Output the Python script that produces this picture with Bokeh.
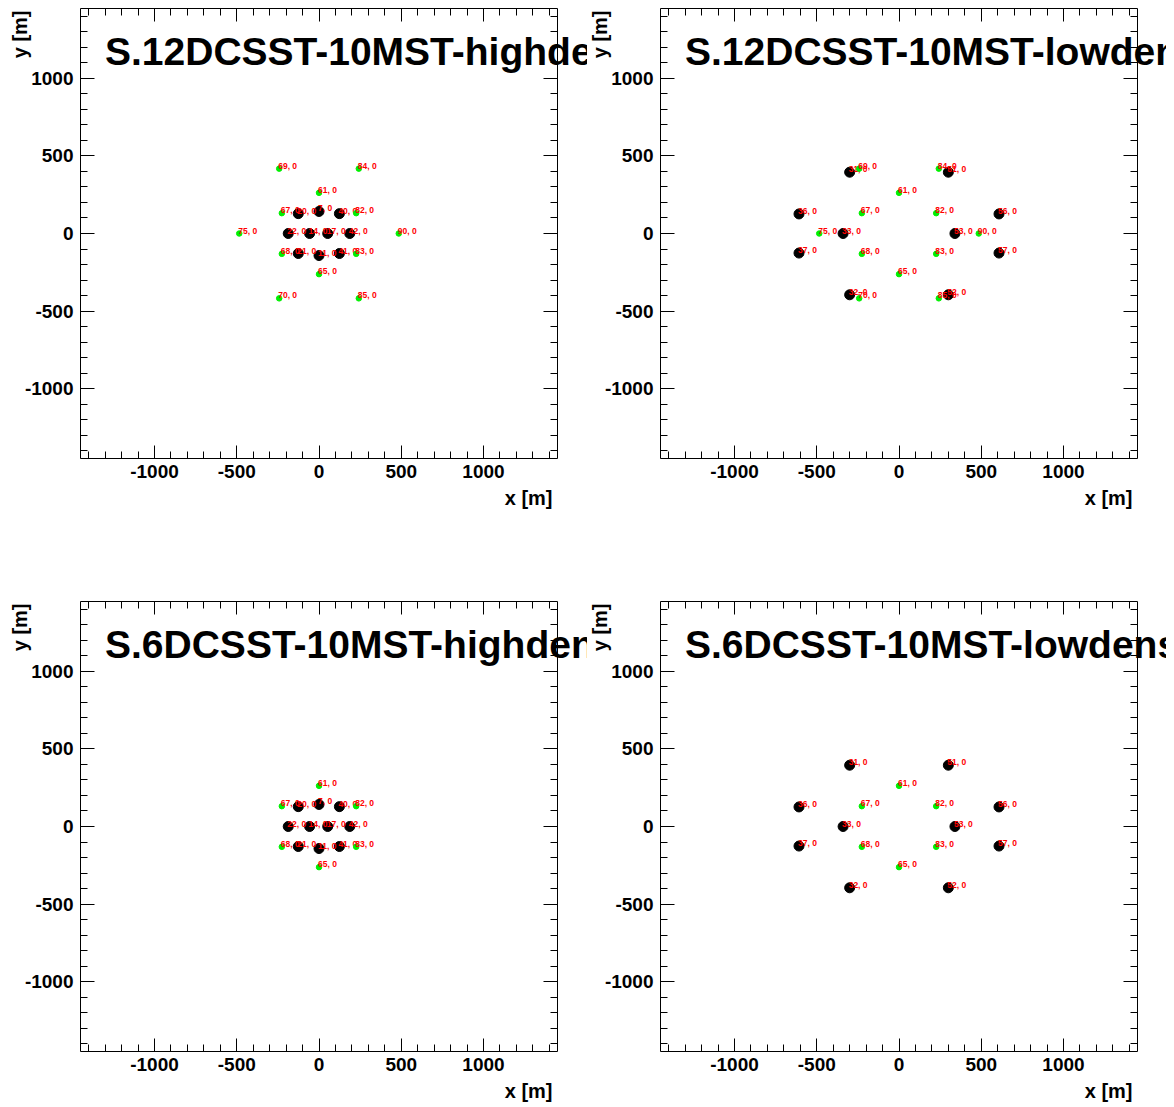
from bokeh.plotting import figure
from bokeh.models import Range1d, FixedTicker, LinearAxis, Label, ColumnDataSource
from bokeh.layouts import column, row
from bokeh.embed import file_html
from bokeh.resources import INLINE
from bokeh.core.properties import value

# ---- data: telescope positions [m] ----
sst12_ids = [69, 84, 61, 67, 82, 75, 90, 68, 83, 65, 70, 85]
sst12_x = [-242, 242, 0, -226, 226, -485, 485, -226, 226, 0, -242, 242]
sst12_y = [418, 418, 262, 131, 131, 0, 0, -131, -131, -262, -418, -418]

sst6_ids = [61, 67, 82, 68, 83, 65]
sst6_x = [0, -226, 226, -226, 226, 0]
sst6_y = [262, 131, 131, -131, -131, -262]

mst_high_ids = [20, 7, 40, 22, 14, 17, 42, 21, 11, 41]
mst_high_x = [-126, 0, 124, -187, -57, 53, 187, -126, 0, 124]
mst_high_y = [128, 142, 128, 0, 0, 0, 0, -129, -142, -129]

mst_low_ids = [31, 51, 36, 56, 33, 53, 37, 57, 32, 52]
mst_low_x = [-300, 300, -608, 608, -340, 340, -608, 608, -300, 300]
mst_low_y = [395, 395, 126, 126, 0, 0, -126, -126, -395, -395]

titles = ["S.12DCSST-10MST-highdensity", "S.12DCSST-10MST-lowdensity",
          "S.6DCSST-10MST-highdensity", "S.6DCSST-10MST-lowdensity"]

axis_lo, axis_hi = -1450, 1450
major_ticks = [-1000, -500, 0, 500, 1000]
major_labels = ["-1000", "-500", "0", "500", "1000"]
minor_ticks = list(range(-1400, 1500, 100))
x_title = "x [m]"
y_title = "y [m]"

FONT = "Liberation Sans"
FRAME_W, FRAME_H = 477, 450


def style_axis(ax, loc, labels=True, tick_major=13):
    ax.fixed_location = loc
    ax.bounds = (axis_lo, axis_hi)
    ax.ticker = FixedTicker(ticks=major_ticks, minor_ticks=minor_ticks)
    ax.major_tick_in = tick_major
    ax.major_tick_out = 0
    ax.minor_tick_in = 7
    ax.minor_tick_out = 0
    ax.axis_line_color = "black"
    ax.axis_line_width = 1
    ax.major_tick_line_color = "black"
    ax.minor_tick_line_color = "black"
    if labels:
        ax.major_label_text_font = FONT
        ax.major_label_text_font_style = "bold"
        ax.major_label_text_font_size = "19px"
        ax.major_label_text_color = "black"
        ax.major_label_overrides = {t: s for t, s in zip(major_ticks, major_labels)}
    else:
        ax.major_label_overrides = {t: "" for t in major_ticks}
        ax.major_label_text_font_size = "1px"
        ax.major_label_standoff = 0


def make_panel(title, sst, mst, bl, bt, bb, br):
    W = bl + FRAME_W + br
    H = bt + FRAME_H + bb
    ux = (axis_hi - axis_lo) / FRAME_W
    uy = (axis_hi - axis_lo) / FRAME_H

    def X(px):  # pad pixel (from left) -> data x
        return axis_lo + (px - bl) * ux

    def Y(py):  # pad pixel (from top) -> data y
        return axis_hi - (py - bt) * uy

    p = figure(width=W, height=H,
               x_range=Range1d(X(0), X(W)), y_range=Range1d(Y(H), Y(0)),
               output_backend="svg", toolbar_location=None,
               min_border=0, min_border_left=0, min_border_right=0,
               min_border_top=0, min_border_bottom=0)
    p.xgrid.grid_line_color = None
    p.ygrid.grid_line_color = None
    p.outline_line_color = None
    p.background_fill_color = "white"
    p.border_fill_color = "white"

    style_axis(p.xaxis[0], axis_lo, True, 13)
    p.xaxis[0].major_label_standoff = 6
    style_axis(p.yaxis[0], axis_lo, True, 14)
    p.yaxis[0].major_label_standoff = 7

    top = LinearAxis()
    style_axis(top, axis_hi, False, 13)
    p.add_layout(top, "above")
    right = LinearAxis()
    style_axis(right, axis_hi, False, 14)
    p.add_layout(right, "right")

    sid, sx, sy = sst
    mid, mx, my = mst
    msrc = ColumnDataSource(dict(x=mx, y=my, t=[f"{i}, 0" for i in mid]))
    ssrc = ColumnDataSource(dict(x=sx, y=sy, t=[f"{i}, 0" for i in sid]))

    p.scatter("x", "y", source=msrc, size=10, color="black", marker="circle")
    p.text("x", "y", text="t", source=msrc, text_color="#ff0000",
           text_font=value(FONT), text_font_style="bold", text_font_size="8.5px",
           text_baseline="middle", x_offset=-1, y_offset=-3)
    p.scatter("x", "y", source=ssrc, size=5.5, color="#00f000", marker="circle")
    p.text("x", "y", text="t", source=ssrc, text_color="#ff0000",
           text_font=value(FONT), text_font_style="bold", text_font_size="8.5px",
           text_baseline="middle", x_offset=-1, y_offset=-3)

    # pad texts (title over the frame, axis titles outside it)
    p.add_layout(Label(x=X(bl + 24.5), y=Y(bt + 43), text=title, text_font=FONT,
                       text_font_style="bold", text_font_size="39px",
                       text_baseline="middle", text_color="black"))
    p.add_layout(Label(x=X(bl + 472), y=Y(bt + FRAME_H + 39), text=x_title,
                       text_font=FONT, text_font_style="bold", text_font_size="20px",
                       text_align="right", text_baseline="middle",
                       text_color="black"))
    p.add_layout(Label(x=X(bl - 60.5), y=Y(bt + 2), text=y_title, text_font=FONT,
                       text_font_style="bold", text_font_size="20px",
                       text_align="right", text_baseline="middle",
                       angle=1.5707963, text_color="black"))
    return p


a = make_panel(titles[0], (sst12_ids, sst12_x, sst12_y),
               (mst_high_ids, mst_high_x, mst_high_y), 80, 8, 135, 30)
b = make_panel(titles[1], (sst12_ids, sst12_x, sst12_y),
               (mst_low_ids, mst_low_x, mst_low_y), 73, 8, 135, 29)
c = make_panel(titles[2], (sst6_ids, sst6_x, sst6_y),
               (mst_high_ids, mst_high_x, mst_high_y), 80, 8, 56, 30)
d = make_panel(titles[3], (sst6_ids, sst6_x, sst6_y),
               (mst_low_ids, mst_low_x, mst_low_y), 73, 8, 56, 29)

layout = column(row(a, b), row(c, d))
open("out.html", "w").write(file_html(layout, INLINE))
